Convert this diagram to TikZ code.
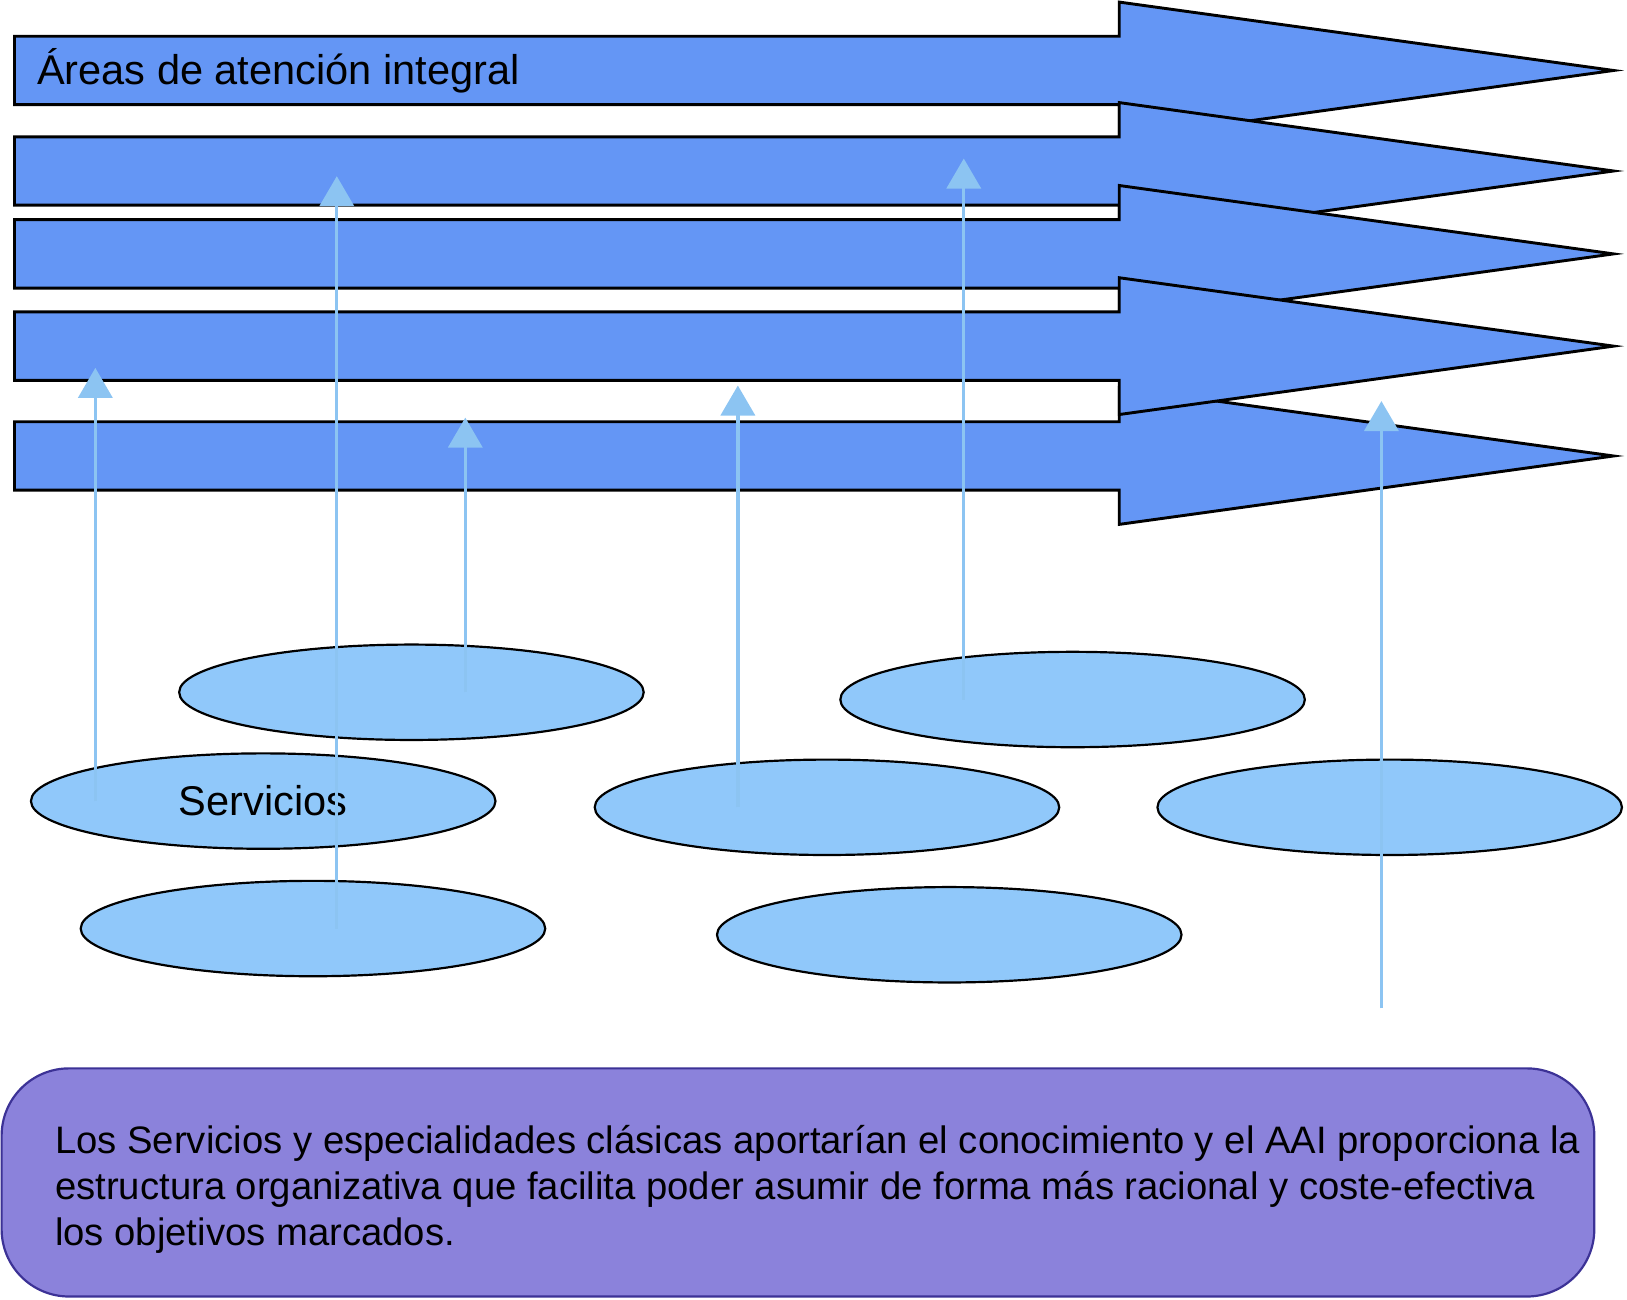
\documentclass[tikz,border=0pt]{standalone}
\usepackage{fontspec}
\setmainfont{Liberation Sans}
\usetikzlibrary{shapes.geometric,arrows.meta,positioning}
\definecolor{areablue}{RGB}{100,150,245}
\definecolor{servblue}{RGB}{144,200,250}
\definecolor{linkblue}{RGB}{140,196,242}
\definecolor{notafill}{RGB}{139,130,219}
\definecolor{notaline}{RGB}{60,50,150}

\tikzset{
  areaarrow/.style={draw=black,line width=0.8pt,fill=areablue},
  servicio/.style={draw=black,line width=0.6pt,ellipse,fill=servblue,minimum width=4.48cm,minimum height=0.92cm,inner sep=0pt,font=\fontsize{11.4}{13}\selectfont},
  enlace/.style={draw=linkblue,line width=0.9pt,-{Triangle[width=3.3mm,length=2.9mm]}},
  nota/.style={draw=notaline,line width=0.6pt,fill=notafill,rounded corners=0.65cm,minimum width=15.36cm,minimum height=2.2cm}
}

\begin{document}
\begin{tikzpicture}[x=0.01cm,y=-0.01cm]
\useasboundingbox (0,0) rectangle (1570,1254);
% areas de atencion
\foreach \yy in {440,68,165,245,334}
  \draw[areaarrow] (14,\yy-33) -- (1080,\yy-33) -- (1080,\yy-66) -- (1557,\yy) -- (1080,\yy+66) -- (1080,\yy+33) -- (14,\yy+33) -- cycle;
\node[anchor=west,inner sep=0pt,font=\fontsize{11.4}{13}\selectfont] (titulo) at (35,68) {Áreas de atención integral};

% servicios
\node[servicio] (s1) at (397,668) {};
\node[servicio] (s2) at (254,773) {Servicios};
\node[servicio] (s3) at (302,896) {};
\node[servicio] (s4) at (798,779) {};
\node[servicio] (s5) at (1035,675) {};
\node[servicio] (s6) at (916,902) {};
\node[servicio] (s7) at (1341,779) {};

% puntas
\coordinate (tA) at (92,355);
\coordinate (tB) at (325,170);
\coordinate (tC) at (449,403);
\coordinate (tD) at (712,372);
\coordinate (tE) at (930,153);
\coordinate (tF) at (1333,387);
\coordinate (fF) at (1333,973);

\draw[enlace] (tA |- s2) -- (tA);
\draw[enlace] (tB |- s3) -- (tB);
\draw[enlace] (tC |- s1) -- (tC);
\draw[enlace] (tD |- s4) -- (tD);
\draw[enlace] (tE |- s5) -- (tE);
\draw[enlace] (fF) -- (tF);

% nota
\node[nota] (nota) at (770,1141) {};
\node[anchor=west,align=left,inner sep=0pt,font=\fontsize{10.5}{12.66}\selectfont] (notatexto) at ([xshift=0.52cm,yshift=-0.07cm]nota.west) {Los Servicios y especialidades clásicas aportarían el conocimiento y el AAI proporciona la\\estructura organizativa que facilita poder asumir de forma más racional y coste-efectiva\\los objetivos marcados.};
\end{tikzpicture}
\end{document}
